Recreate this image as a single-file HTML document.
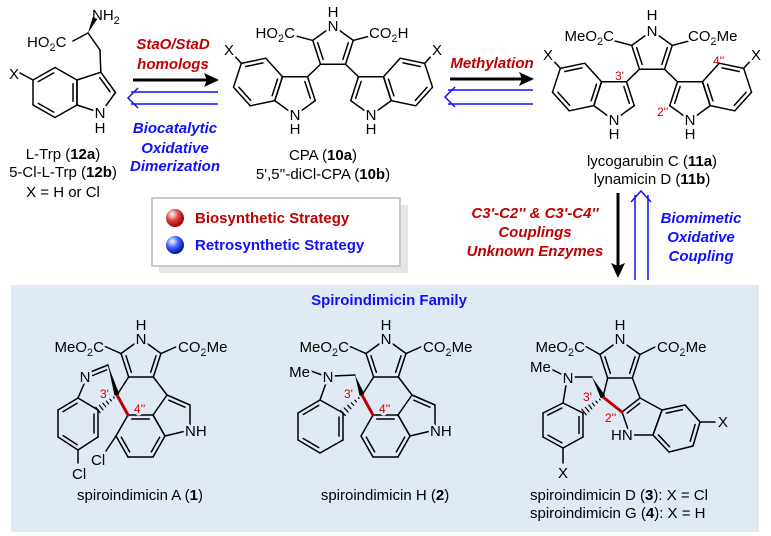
<!DOCTYPE html>
<html><head><meta charset="utf-8"><style>
html,body{margin:0;padding:0;background:#fff}
svg{display:block}
text{font-family:"Liberation Sans",Arial,sans-serif;font-size:15px;fill:#000}
.w{paint-order:stroke;stroke:#fff;stroke-width:5px;stroke-linejoin:round}
.b{paint-order:stroke;stroke:#dfeaf5;stroke-width:5px;stroke-linejoin:round}
.r{fill:#c00000;font-weight:bold;font-style:italic}
.bl{fill:#1010ff;font-weight:bold;font-style:italic}
.lab{fill:#d00000;font-size:12px}
</style></head><body>
<svg id="svg" width="771" height="536" viewBox="0 0 771 536" xmlns="http://www.w3.org/2000/svg">
<defs>
<radialGradient id="gr" cx="0.35" cy="0.3" r="0.7"><stop offset="0" stop-color="#fff"/><stop offset="0.5" stop-color="#e04040"/><stop offset="1" stop-color="#900"/></radialGradient>
<radialGradient id="gb" cx="0.35" cy="0.3" r="0.7"><stop offset="0" stop-color="#fff"/><stop offset="0.5" stop-color="#4060ff"/><stop offset="1" stop-color="#0010a0"/></radialGradient>
</defs>
<rect x="11" y="285" width="748" height="247" fill="#dfeaf5"/>
<!-- legend -->
<rect x="159" y="205" width="249" height="68" fill="#e6e6e6"/>
<rect x="152" y="198" width="248" height="68" fill="#fff" stroke="#c8c8c8" stroke-width="2"/>
<circle cx="175" cy="218" r="9" fill="url(#gr)"/>
<circle cx="175" cy="245" r="9" fill="url(#gb)"/>
<text x="195" y="223" style="font-weight:bold;fill:#c00000">Biosynthetic Strategy</text>
<text x="195" y="250" style="font-weight:bold;fill:#1010ff">Retrosynthetic Strategy</text>

<g id="bonds"></g>

<!-- arrows -->
<line x1="133" y1="80" x2="208" y2="80" stroke="#000" stroke-width="3"/>
<polygon points="219,80 204,73 207,80 204,87" fill="#000"/>
<line x1="131" y1="92" x2="218" y2="92" stroke="#1010ff" stroke-width="1.5"/>
<line x1="131" y1="104" x2="218" y2="104" stroke="#1010ff" stroke-width="1.5"/>
<polyline points="138,88 128,98 138,108" fill="none" stroke="#1010ff" stroke-width="1.5"/>

<line x1="450" y1="79" x2="523" y2="79" stroke="#000" stroke-width="3"/>
<polygon points="534,79 519,72 522,79 519,86" fill="#000"/>
<line x1="448" y1="90" x2="533" y2="90" stroke="#1010ff" stroke-width="1.5"/>
<line x1="448" y1="104" x2="533" y2="104" stroke="#1010ff" stroke-width="1.5"/>
<polyline points="455,87 445,97 455,107" fill="none" stroke="#1010ff" stroke-width="1.5"/>

<line x1="618" y1="193" x2="618" y2="266" stroke="#000" stroke-width="3"/>
<polygon points="618,278 611,263 618,266 625,263" fill="#000"/>
<line x1="635" y1="195" x2="635" y2="280" stroke="#1010ff" stroke-width="1.5"/>
<line x1="648" y1="195" x2="648" y2="280" stroke="#1010ff" stroke-width="1.5"/>
<polyline points="631,202 641,191 651,202" fill="none" stroke="#1010ff" stroke-width="1.5"/>

<text x="173" y="49" text-anchor="middle" class="r">StaO/StaD</text>
<text x="173" y="69" text-anchor="middle" class="r">homologs</text>
<text x="175" y="133" text-anchor="middle" class="bl">Biocatalytic</text>
<text x="175" y="153" text-anchor="middle" class="bl">Oxidative</text>
<text x="175" y="171" text-anchor="middle" class="bl">Dimerization</text>
<text x="492" y="68" text-anchor="middle" class="r">Methylation</text>
<text x="535" y="218" text-anchor="middle" class="r">C3'-C2'' &amp; C3'-C4''</text>
<text x="535" y="237" text-anchor="middle" class="r">Couplings</text>
<text x="535" y="256" text-anchor="middle" class="r">Unknown Enzymes</text>
<text x="701" y="223" text-anchor="middle" class="bl">Biomimetic</text>
<text x="701" y="242" text-anchor="middle" class="bl">Oxidative</text>
<text x="701" y="261" text-anchor="middle" class="bl">Coupling</text>

<!-- Trp -->
<g id="lbl">
<text x="92" y="20">NH<tspan font-size="11" dy="4">2</tspan></text>
<text x="27" y="47" class="w">HO<tspan font-size="11" dy="4">2</tspan><tspan dy="-4">C</tspan></text>
<text x="14" y="79" text-anchor="middle" class="w">X</text>
<text x="100" y="118" text-anchor="middle" class="w">N</text>
<text x="100" y="133" text-anchor="middle">H</text>
<text x="63" y="159" text-anchor="middle">L-Trp (<tspan font-weight="bold">12a</tspan>)</text>
<text x="63" y="177" text-anchor="middle">5-Cl-L-Trp (<tspan font-weight="bold">12b</tspan>)</text>
<text x="63" y="197" text-anchor="middle">X = H or Cl</text>

<!-- CPA -->
<text x="333" y="17" text-anchor="middle">H</text>
<text x="333" y="31" text-anchor="middle" class="w">N</text>
<text x="295" y="38" text-anchor="end" class="w">HO<tspan font-size="11" dy="4">2</tspan><tspan dy="-4">C</tspan></text>
<text x="369" y="38" class="w">CO<tspan font-size="11" dy="4">2</tspan><tspan dy="-4">H</tspan></text>
<text x="229" y="55" text-anchor="middle" class="w">X</text>
<text x="437" y="55" text-anchor="middle" class="w">X</text>
<text x="295" y="120" text-anchor="middle" class="w">N</text>
<text x="295" y="134" text-anchor="middle">H</text>
<text x="371" y="120" text-anchor="middle" class="w">N</text>
<text x="371" y="134" text-anchor="middle">H</text>
<text x="323" y="160" text-anchor="middle">CPA (<tspan font-weight="bold">10a</tspan>)</text>
<text x="323" y="179" text-anchor="middle">5',5''-diCl-CPA (<tspan font-weight="bold">10b</tspan>)</text>

<!-- lycogarubin -->
<text x="652" y="20" text-anchor="middle">H</text>
<text x="652" y="36" text-anchor="middle" class="w">N</text>
<text x="614" y="41" text-anchor="end" class="w">MeO<tspan font-size="11" dy="4">2</tspan><tspan dy="-4">C</tspan></text>
<text x="688" y="41" class="w">CO<tspan font-size="11" dy="4">2</tspan><tspan dy="-4">Me</tspan></text>
<text x="548" y="60" text-anchor="middle" class="w">X</text>
<text x="756" y="60" text-anchor="middle" class="w">X</text>
<text x="614" y="125" text-anchor="middle" class="w">N</text>
<text x="614" y="139" text-anchor="middle">H</text>
<text x="690" y="125" text-anchor="middle" class="w">N</text>
<text x="690" y="139" text-anchor="middle">H</text>
<text x="615" y="80" class="lab">3'</text>
<text x="713" y="65" class="lab">4''</text>
<text x="657" y="116" class="lab">2''</text>
<text x="652" y="166" text-anchor="middle">lycogarubin C (<tspan font-weight="bold">11a</tspan>)</text>
<text x="652" y="184" text-anchor="middle">lynamicin D (<tspan font-weight="bold">11b</tspan>)</text>

<!-- family -->
<text x="389" y="305" text-anchor="middle" style="font-weight:bold;fill:#1010ff">Spiroindimicin Family</text>

<!-- spiro A -->
<text x="141" y="330" text-anchor="middle">H</text>
<text x="141" y="344" text-anchor="middle" class="b">N</text>
<text x="104" y="352" text-anchor="end" class="b">MeO<tspan font-size="11" dy="4">2</tspan><tspan dy="-4">C</tspan></text>
<text x="178" y="352" class="b">CO<tspan font-size="11" dy="4">2</tspan><tspan dy="-4">Me</tspan></text>
<text x="185" y="436" class="b">NH</text>
<text x="85" y="382" text-anchor="middle" class="b">N</text>
<text x="91" y="465" class="b">Cl</text>
<text x="72" y="479" class="b">Cl</text>
<text x="100" y="398" class="lab b">3'</text>
<text x="134" y="413" class="lab b">4''</text>
<text x="140" y="500" text-anchor="middle">spiroindimicin A (<tspan font-weight="bold">1</tspan>)</text>

<!-- spiro H -->
<text x="386" y="330" text-anchor="middle">H</text>
<text x="386" y="344" text-anchor="middle" class="b">N</text>
<text x="349" y="352" text-anchor="end" class="b">MeO<tspan font-size="11" dy="4">2</tspan><tspan dy="-4">C</tspan></text>
<text x="423" y="352" class="b">CO<tspan font-size="11" dy="4">2</tspan><tspan dy="-4">Me</tspan></text>
<text x="430" y="436" class="b">NH</text>
<text x="310" y="377" text-anchor="end" class="b">Me</text>
<text x="328" y="382" text-anchor="middle" class="b">N</text>
<text x="344" y="398" class="lab b">3'</text>
<text x="379" y="413" class="lab b">4''</text>
<text x="385" y="500" text-anchor="middle">spiroindimicin H (<tspan font-weight="bold">2</tspan>)</text>

<!-- spiro D -->
<text x="620" y="330" text-anchor="middle">H</text>
<text x="620" y="344" text-anchor="middle" class="b">N</text>
<text x="585" y="352" text-anchor="end" class="b">MeO<tspan font-size="11" dy="4">2</tspan><tspan dy="-4">C</tspan></text>
<text x="657" y="352" class="b">CO<tspan font-size="11" dy="4">2</tspan><tspan dy="-4">Me</tspan></text>
<text x="530" y="372" class="b">Me</text>
<text x="568" y="383" text-anchor="middle" class="b">N</text>
<text x="583" y="401" class="lab b">3'</text>
<text x="605" y="422" class="lab b">2''</text>
<text x="611" y="440" class="b">HN</text>
<text x="723" y="427" text-anchor="middle" class="b">X</text>
<text x="563" y="478" text-anchor="middle" class="b">X</text>
<text x="530" y="500">spiroindimicin D (<tspan font-weight="bold">3</tspan>): X = Cl</text>
<text x="530" y="518">spiroindimicin G (<tspan font-weight="bold">4</tspan>): X = H</text>
</g>
</svg>
<script>
(function(){
const NS='http://www.w3.org/2000/svg';
const G=document.getElementById('bonds');
function el(t,a){const e=document.createElementNS(NS,t);for(const k in a)e.setAttribute(k,a[k]);G.appendChild(e);return e;}
function L(a,b,c,w){el('line',{x1:a[0],y1:a[1],x2:b[0],y2:b[1],stroke:c||'#000','stroke-width':w||1.5,'stroke-linecap':'round'});}
function inner(p,q,c){const dx=q[0]-p[0],dy=q[1]-p[1],len=Math.hypot(dx,dy);let nx=-dy/len,ny=dx/len;const mx=(p[0]+q[0])/2-c[0],my=(p[1]+q[1])/2-c[1];if(nx*mx+ny*my>0){nx=-nx;ny=-ny;}const o=4,s=0.15;L([p[0]+nx*o+dx*s,p[1]+ny*o+dy*s],[q[0]+nx*o-dx*s,q[1]+ny*o-dy*s]);}
function ring(P,dbl){const n=P.length;let cx=0,cy=0;P.forEach(p=>{cx+=p[0];cy+=p[1];});cx/=n;cy/=n;for(let i=0;i<n;i++){const p=P[i],q=P[(i+1)%n];L(p,q);if(dbl.includes(i))inner(p,q,[cx,cy]);}}
function reg(cx,cy,R,n,a0){const P=[];for(let i=0;i<n;i++){const a=(a0+i*360/n)*Math.PI/180;P.push([cx+R*Math.cos(a),cy+R*Math.sin(a)]);}return P;}
function wedge(a,b,w){const dx=b[0]-a[0],dy=b[1]-a[1],len=Math.hypot(dx,dy),nx=-dy/len*w/2,ny=dx/len*w/2;el('polygon',{points:a[0]+','+a[1]+' '+(b[0]+nx)+','+(b[1]+ny)+' '+(b[0]-nx)+','+(b[1]-ny),fill:'#000'});}
function hash(a,b,w){const dx=b[0]-a[0],dy=b[1]-a[1],len=Math.hypot(dx,dy),nx=-dy/len,ny=dx/len;for(let i=1;i<=6;i++){const t=i/6,h=t*w/2,x=a[0]+dx*t,y=a[1]+dy*t;L([x+nx*h,y+ny*h],[x-nx*h,y-ny*h],'#000',1.2);}}

// Trp
ring([[77,80],[55,67.5],[33,80],[33,105],[55,117.5],[77,105]],[1,3,5]);
ring(reg(94.2,92.5,21.3,5,216),[1]);
L([100.8,72.2],[100,50]);L([100,50],[88,33]);L([88,33],[73,41]);wedge([88,33],[95,18],5);
L([33,80],[20,73]);

// CPA / lycogarubin
function cpa(ox,oy){const T=p=>[p[0]+ox,p[1]+oy];
 const py=reg(333,47,21.3,5,-90).map(T);ring(py,[1,3]);
 L(py[4],T([296,36]));L(py[1],T([370,36]));
 [false,true].forEach(m=>{const f=p=>T(m?[666-p[0],p[1]]:p);
  const C3=m?py[2]:py[3];
  const ip=reg(295,94,21.3,5,-54).map(f);L(C3,ip[0]);ring(ip,[0]);
  const bz=[[282.5,76.8],[265.8,58.2],[241.3,63.4],[233.5,87.2],[250.2,105.8],[274.8,100.6]].map(f);
  ring(bz,[1,3,5]);L(f([241.3,63.4]),f([233,54]));
 });}
cpa(0,0);cpa(319,5);

// spiro A / H
function spiro(dx,cl,type){const T=p=>[p[0]+dx,p[1]];
 const py=reg(141,360,21,5,-90).map(T);ring(py,[1,3]);L(py[4],T([104,346]));L(py[1],T([178,346]));
 const C3=py[3],C4=py[2],SP=T([117,395]),C3i=T([167,395]),C3a=T([153,415]),C4i=T([128,415]);
 L(C4,C3i);L(SP,C3);
 const bz=[C4i,C3a,T([165,436]),T([153,457]),T([128,457]),T([116,436])];ring(bz,[0,2,4]);
 ring([C3a,C3i,T([190,405]),T([190,430]),T([165,436])],[1]);
 L(SP,C4i,'#c00000',3);
 if(cl){L(T([116,436]),T([106,451]));}
 if(type==='imine'){const CH=T([108,365]);wedge(SP,CH,1);wedge(CH,SP,5);const Np=T([88,373]);L(Np,CH);inner(Np,CH,SP);
  L(T([84,384]),T([78,398]));ring([[78,398],[98,410],[98,437],[78,450],[58,437],[58,410]].map(T),[1,3,5]);hash(SP,T([98,410]),7);L(T([78,450]),T([78,463]));}
 else{const CH=T([110,375]);L(T([88,376]),CH);wedge(CH,SP,5);L(T([66,371]),T([77,375]));L(T([81,383]),T([75,400]));
  ring([[75,400],[98,413],[98,440],[75,453],[53,440],[53,413]].map(T),[1,3,5]);hash(SP,T([98,413]),7);}
}
spiro(0,true,'imine');spiro(245,false,'nme');

// spiro D
(function(){const py=reg(620,361,21,5,-90);ring(py,[1,3]);L(py[4],[585,346]);L(py[1],[657,346]);
 const C3=py[3],C4=py[2],SP=[603,397],C3i=[640,398],C2i=[622,412];
 L(C4,C3i);L(SP,C3);
 ring([C3i,C2i,[630,435],[653,435],[662,410]],[0]);
 ring([[662,410],[685,405],[700,422],[693,446],[669,452],[653,435]],[0,2,4]);
 L([700,422],[715,422]);
 L(SP,C2i,'#c00000',3);
 L([573,377],[592,377]);wedge([592,377],SP,5);L([549,368],[561,374]);L([566,385],[563,403]);
 ring([[563,403],[583,413],[583,437],[563,448],[543,437],[543,413]],[1,3,5]);hash(SP,[584,412],7);L([563,448],[563,463]);
})();
})();
</script>
</body></html>
